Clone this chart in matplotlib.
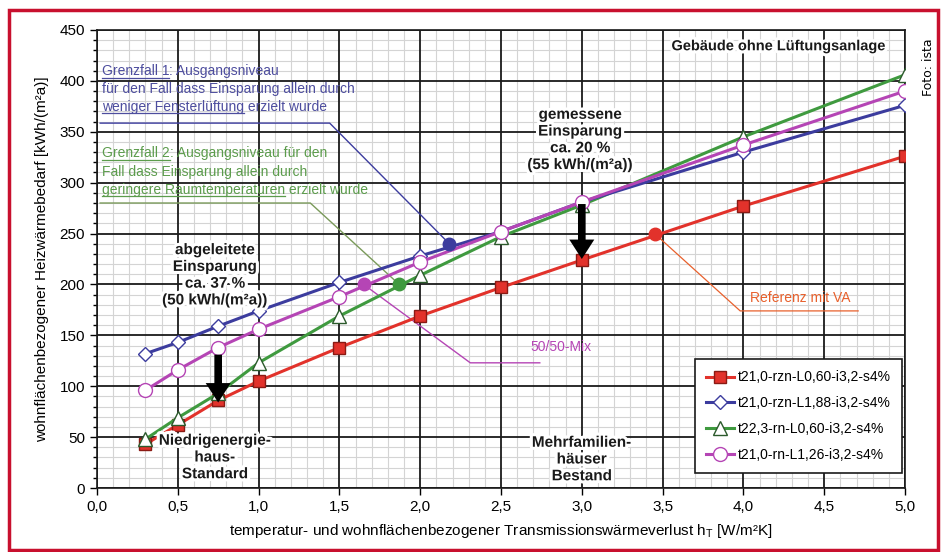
import numpy as np
import matplotlib.pyplot as plt
import matplotlib.transforms as mtransforms
import matplotlib.patheffects as pe
from matplotlib.lines import Line2D
from matplotlib.patches import Rectangle
from matplotlib.ticker import MultipleLocator, FuncFormatter

plt.rcParams['font.family'] = ['Liberation Sans', 'DejaVu Sans']

# data
h_t = [0.3, 0.5, 0.75, 1.0, 1.5, 2.0, 2.5, 3.0, 4.0, 5.0]
red_vals = [43, 62, 86, 105, 138, 169, 197, 224, 277, 326]
blue_vals = [132, 143, 159, 174, 202, 228, 252, 281, 330, 376]
green_vals = [48, 69, 93, 123, 169, 209, 247, 278, 345, 406]
magenta_vals = [96, 116, 138, 156, 188, 222, 252, 281, 337, 390]
series_labels = ['t21,0-rzn-L0,60-i3,2-s4%', 't21,0-rzn-L1,88-i3,2-s4%',
                 't22,3-rn-L0,60-i3,2-s4%', 't21,0-rn-L1,26-i3,2-s4%']

# reference points (filled dots)
ref_x = [2.18, 1.87, 1.65, 3.45]
ref_y = [240, 200, 200, 250]

RED = '#e2322b'
BLUE = '#3c3c9e'
GREEN = '#3f9a3f'
MAGENTA = '#b545b5'
TXT_BLUE = '#4d4d9e'
TXT_GREEN = '#5c9c4c'
ORANGE = '#e8602c'

fig = plt.figure(figsize=(9.46, 5.52), dpi=100)
ax = fig.add_axes([0.1025, 0.1159, 0.8542, 0.8298])
ax.set_xlim(0, 5)
ax.set_ylim(0, 450)
ax.set_autoscale_on(False)

ax.xaxis.set_major_locator(MultipleLocator(0.5))
ax.xaxis.set_minor_locator(MultipleLocator(0.1))
ax.yaxis.set_major_locator(MultipleLocator(50))
ax.yaxis.set_minor_locator(MultipleLocator(10))
ax.grid(which='minor', color='#d4d4d4', lw=0.8)
ax.set_axisbelow(True)
# major grid drawn on top of the minor grid
ax.vlines(ax.get_xticks()[1:-1], 0, 450, color='#1a1a1a', lw=1.3, zorder=1)
ax.hlines(ax.get_yticks()[1:-1], 0, 5, color='#1a1a1a', lw=1.3, zorder=1)

ax.xaxis.set_major_formatter(FuncFormatter(lambda v, _: f'{v:.1f}'.replace('.', ',')))
ax.tick_params(axis='both', which='major', labelsize=11, length=5, width=1)
ax.tick_params(axis='y', which='minor', length=3, width=1)
ax.tick_params(axis='x', which='minor', length=0)
for s in ax.spines.values():
    s.set_color('#1a1a1a')
    s.set_linewidth(1.2)

ax.set_xlabel('temperatur- und wohnflächenbezogener Transmissionswärmeverlust h$_\\mathregular{T}$ [W/m²K]',
              fontsize=11, labelpad=6)
ax.set_ylabel('wohnflächenbezogener Heizwärmebedarf [kWh/(m²a)]', fontsize=11, labelpad=8)

# annotation leader lines (drawn below the data)
ax.plot([0.02, 1.44, 2.18], [358.5, 358.5, 240], color=BLUE, lw=1, zorder=2)
ax.plot([0.02, 1.32, 1.87], [280, 280, 200], color='#7a9a5a', lw=1, zorder=2)
ax.plot([1.65, 2.31, 2.74], [200, 123, 123], color=MAGENTA, lw=1, zorder=2)
ax.plot([3.45, 3.98, 4.71], [250, 174, 174], color=ORANGE, lw=0.9, zorder=2)

ax.plot(h_t, red_vals, color=RED, lw=2.2, marker='s', ms=9, mfc=RED, mec='#8a1a14',
        label=series_labels[0], zorder=4)
ax.plot(h_t, blue_vals, color=BLUE, lw=2.2, marker='D', ms=7, mfc='white', mec=BLUE,
        label=series_labels[1], zorder=5)
ax.plot(h_t, green_vals, color=GREEN, lw=2.2, marker='^', ms=10, mfc='white', mec='#2c5a2c',
        label=series_labels[2], zorder=4)
ax.plot(h_t, magenta_vals, color=MAGENTA, lw=2.2, marker='o', ms=10, mfc='white', mec=MAGENTA,
        label=series_labels[3], zorder=5)
for xv, yv, c in zip(ref_x, ref_y, [BLUE, GREEN, MAGENTA, RED]):
    ax.plot(xv, yv, 'o', ms=9, color=c, zorder=6)

# savings arrows
for x0, y0, y1 in [(0.75, 131, 84), (3.0, 279, 225)]:
    ax.annotate('', xy=(x0, y1), xytext=(x0, y0),
                arrowprops=dict(arrowstyle='simple,head_width=1.8,head_length=1.4,tail_width=0.55',
                                color='black', lw=0, shrinkA=0, shrinkB=0), zorder=7)

halo = [pe.withStroke(linewidth=4.5, foreground='white')]
bold = dict(fontsize=11, fontweight='bold', ha='center', va='center', color='#1a1a1a',
            linespacing=1.25, zorder=8, path_effects=halo)
ax.text(0.73, 209, 'abgeleitete\nEinsparung\nca. 37 %\n(50 kWh/(m²a))', **bold)
ax.text(2.99, 342, 'gemessene\nEinsparung\nca. 20 %\n(55 kWh/(m²a))', **bold)
ax.text(0.73, 30, 'Niedrigenergie-\nhaus-\nStandard', **bold)
ax.text(3.0, 28, 'Mehrfamilien-\nhäuser\nBestand', **bold)
ax.text(4.22, 434, 'Gebäude ohne Lüftungsanlage', fontsize=10.5, fontweight='bold',
        ha='center', va='center', color='#1a1a1a', path_effects=halo, zorder=8)

ax.text(2.87, 132, '50/50-Mix', fontsize=10, color=MAGENTA, ha='center', va='bottom')
ax.text(4.35, 180, 'Referenz mit VA', fontsize=10, color=ORANGE, ha='center', va='bottom')

leg = ax.legend(loc='lower right', bbox_to_anchor=(0.996, 0.033), borderaxespad=0,
                fontsize=10, frameon=True, fancybox=False, edgecolor='#1a1a1a',
                framealpha=1, handlelength=2.0, borderpad=0.8, labelspacing=0.85,
                handletextpad=0.3)
leg.get_frame().set_linewidth(1.2)
leg.set_zorder(10)

# rich text with underlined pieces
fig.canvas.draw()
renderer = fig.canvas.get_renderer()
ident = mtransforms.IdentityTransform()


def rich_line(x, y, parts, color, size=10):
    px, py = ax.transData.transform((x, y))
    for s, ul in parts:
        t = ax.text(px, py, s, transform=ident, fontsize=size, color=color,
                    ha='left', va='baseline', zorder=8)
        bb = t.get_window_extent(renderer)
        if ul:
            ax.add_line(Line2D([bb.x0, bb.x1], [py - 2.5, py - 2.5], transform=ident,
                               color=color, lw=0.9, zorder=8))
        px = bb.x1


rich_line(0.03, 405.5, [('Grenzfall 1', True), (': Ausgangsniveau', False)], TXT_BLUE)
rich_line(0.03, 388, [('für den Fall dass Einsparung allein durch', False)], TXT_BLUE)
rich_line(0.03, 370.5, [('weniger Fensterlüftung', True), (' erzielt wurde', False)], TXT_BLUE)
rich_line(0.03, 325, [('Grenzfall 2', True), (': Ausgangsniveau für den', False)], TXT_GREEN)
rich_line(0.03, 306.5, [('Fall dass Einsparung allein durch', False)], TXT_GREEN)
rich_line(0.03, 289, [('geringere Raumtemperaturen', True), (' erzielt wurde', False)], TXT_GREEN)

fig.text(0.981, 0.93, 'Foto: ista', rotation=90, fontsize=9, ha='center', va='top',
         family=['DejaVu Sans'])
fig.add_artist(Rectangle((0.009, 0.004), 0.983, 0.978, transform=fig.transFigure,
                         fill=False, edgecolor='#c8102e', lw=2.5))

fig.savefig('out.png', dpi=100)
plt.close(fig)
